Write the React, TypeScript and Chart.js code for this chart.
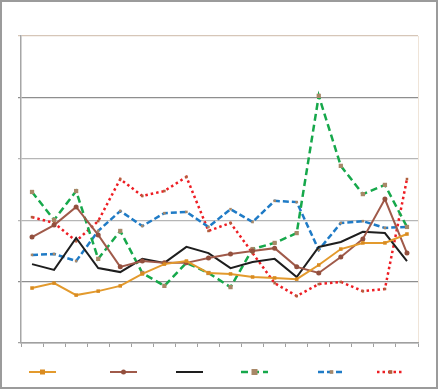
import React, { useEffect, useRef } from "react";
import { Chart, registerables } from "chart.js";

Chart.register(...registerables);

const categories = ["1", "2", "3", "4", "5", "6", "7", "8", "9", "10", "11", "12", "13", "14", "15", "16", "17", "18"];

const seriesOrange = [17.9, 19.5, 15.6, 16.9, 18.6, 22.5, 25.7, 26.7, 22.8, 22.5, 21.5, 21.2, 20.8, 25.4, 30.6, 32.6, 32.6, 35.5];
const seriesBrown = [34.5, 38.4, 44.3, 35.2, 24.8, 26.7, 26.1, 26.1, 27.7, 29.0, 30.0, 30.9, 24.8, 22.8, 28.0, 33.9, 46.9, 29.3];
const seriesBlack = [25.7, 23.8, 34.2, 24.4, 23.1, 27.4, 26.1, 31.3, 29.3, 24.4, 26.4, 27.4, 21.5, 31.3, 32.9, 36.2, 35.8, 26.7];
const seriesGreen = [49.2, 40.1, 49.5, 27.4, 36.5, 22.8, 18.6, 26.1, 22.8, 18.2, 30.6, 32.6, 35.8, 80.5, 57.7, 48.5, 51.5, 37.8];
const seriesBlue = [28.7, 29.0, 26.7, 36.5, 43.0, 38.1, 42.3, 42.7, 37.8, 43.6, 39.4, 46.3, 45.9, 30.3, 39.1, 39.7, 37.5, 37.8];
const seriesRed = [41.0, 39.1, 33.2, 39.7, 53.4, 47.9, 49.5, 54.1, 36.5, 39.1, 29.3, 19.5, 15.3, 19.2, 19.9, 16.9, 17.6, 53.4];

const yMin = 0;
const yMax = 100;
const yStep = 20;

const legendX = [29, 110, 176, 241, 318, 377];
const legendY = 372;
const legendLen = 27;

const framePlugin = {
  id: "frame",
  beforeDraw(chart: any) {
    const ctx = chart.ctx;
    const a = chart.chartArea;
    ctx.save();
    ctx.fillStyle = "#ffffff";
    ctx.fillRect(0, 0, chart.width, chart.height);
    ctx.strokeStyle = "#9b9b9b";
    ctx.lineWidth = 2;
    ctx.strokeRect(1, 1, chart.width - 3, chart.height - 3);
    ctx.strokeStyle = "#efe4d8";
    ctx.lineWidth = 1;
    ctx.beginPath();
    ctx.moveTo(a.right + 0.5, a.top);
    ctx.lineTo(a.right + 0.5, a.bottom);
    ctx.stroke();
    ctx.restore();
  },
  afterDraw(chart: any) {
    const ctx = chart.ctx;
    ctx.save();
    chart.data.datasets.forEach((ds: any, i: number) => {
      const x0 = legendX[i];
      ctx.strokeStyle = ds.borderColor;
      ctx.lineWidth = ds.borderWidth;
      ctx.setLineDash(ds.borderDash || []);
      ctx.beginPath();
      ctx.moveTo(x0, legendY);
      ctx.lineTo(x0 + legendLen, legendY);
      ctx.stroke();
      ctx.setLineDash([]);
      if (ds.pointRadius > 0) {
        const cx = x0 + legendLen / 2;
        const r = ds.pointRadius;
        ctx.fillStyle = ds.pointBackgroundColor;
        if (ds.pointStyle === "rect") {
          ctx.fillRect(cx - r, legendY - r, 2 * r, 2 * r);
        } else {
          ctx.beginPath();
          ctx.arc(cx, legendY, r, 0, Math.PI * 2);
          ctx.fill();
        }
      }
    });
    ctx.restore();
  },
};

function gridColor(ctx: any) {
  const v = ctx.tick ? ctx.tick.value : 0;
  if (v === 100) return "#d6c6b8";
  if (v === 20 || v === 80) return "#8e8e8e";
  if (v === 0) return "#a0a0a0";
  return "#b6b6b6";
}

export default function App() {
  const ref = useRef<HTMLCanvasElement | null>(null);

  useEffect(() => {
    document.body.style.margin = "0";
    const canvas = ref.current;
    if (!canvas) return;
    const chart = new Chart(canvas, {
      type: "line",
      data: {
        labels: categories,
        datasets: [
          {
            data: seriesOrange,
            borderColor: "#E39A2D",
            borderWidth: 2,
            pointStyle: "rect",
            pointRadius: 2.5,
            pointBackgroundColor: "#D98B20",
            pointBorderWidth: 0,
            tension: 0,
          },
          {
            data: seriesBrown,
            borderColor: "#A05A4A",
            borderWidth: 2,
            pointStyle: "circle",
            pointRadius: 2.5,
            pointBackgroundColor: "#93503E",
            pointBorderWidth: 0,
            tension: 0,
          },
          {
            data: seriesBlack,
            borderColor: "#1e1e1e",
            borderWidth: 2,
            pointRadius: 0,
            tension: 0,
          },
          {
            data: seriesGreen,
            borderColor: "#16A84B",
            borderWidth: 2.5,
            borderDash: [7, 4],
            pointStyle: "rect",
            pointRadius: 3,
            pointBackgroundColor: "#A88868",
            pointBorderWidth: 0,
            tension: 0,
          },
          {
            data: seriesBlue,
            borderColor: "#1F7BC6",
            borderWidth: 2.5,
            borderDash: [6, 3],
            pointStyle: "rect",
            pointRadius: 1.8,
            pointBackgroundColor: "#A88868",
            pointBorderWidth: 0,
            tension: 0,
          },
          {
            data: seriesRed,
            borderColor: "#EE1D23",
            borderWidth: 2.5,
            borderDash: [2.5, 3],
            pointStyle: "rect",
            pointRadius: 1.8,
            pointBackgroundColor: "#B0603E",
            pointBorderWidth: 0,
            tension: 0,
          },
        ],
      },
      options: {
        responsive: false,
        animation: false,
        events: [],
        layout: { padding: { left: 17, top: 36, right: 21, bottom: 43 } },
        plugins: {
          legend: { display: false },
          tooltip: { enabled: false },
          title: { display: false },
        },
        scales: {
          x: {
            type: "category",
            offset: true,
            grid: {
              offset: true,
              drawOnChartArea: false,
              drawTicks: true,
              tickLength: 4,
              color: "#a0a0a0",
            },
            border: { display: true, color: "#a0a0a0", width: 1.5 },
            ticks: { display: false },
            afterFit: (s: any) => {
              s.height = 4;
            },
          },
          y: {
            min: yMin,
            max: yMax,
            ticks: { display: false, stepSize: yStep },
            grid: {
              color: gridColor,
              lineWidth: 1.2,
              drawTicks: true,
              tickLength: 3,
            },
            border: { display: true, color: "#a6a6a6", width: 1.5 },
            afterFit: (s: any) => {
              s.width = 4;
            },
          },
        },
      },
      plugins: [framePlugin],
    } as any);
    return () => chart.destroy();
  }, []);

  return (
    <div style={{ width: 439, height: 390 }}>
      <canvas ref={ref} width={439} height={390} style={{ display: "block" }} />
    </div>
  );
}
